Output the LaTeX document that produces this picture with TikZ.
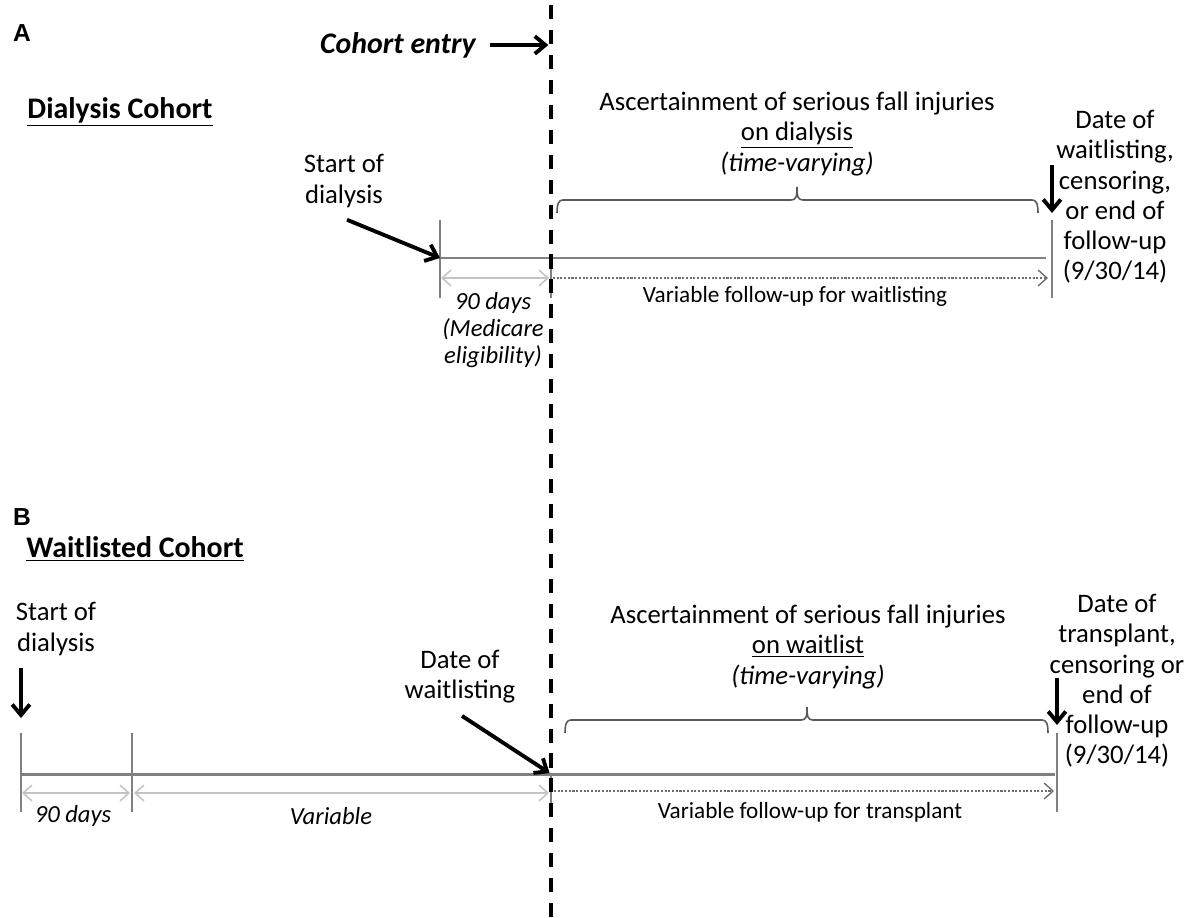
\documentclass[tikz,border=0pt]{standalone}
\usepackage{fontspec}
\setmainfont{Carlito}
\newfontfamily\panelfont{Liberation Sans}
\usetikzlibrary{arrows.meta,positioning}

\definecolor{axisgray}{HTML}{808080}
\definecolor{spangray}{HTML}{C4C4C4}
\definecolor{dotgray}{HTML}{6E6E6E}
\definecolor{bracegray}{HTML}{5A5A5A}

% brace over a follow-up window: left x, middle x, right x, base y
\newcommand{\spanbrace}[4]{%
  \draw[bracket] (#1,#4) .. controls (#1,#4-10) and (#1+2,#4-13) .. (#1+6,#4-13)
    -- (#2-6,#4-13) .. controls (#2-1,#4-13) and (#2,#4-16) .. (#2,#4-26)
    .. controls (#2,#4-16) and (#2+1,#4-13) .. (#2+6,#4-13)
    -- (#3-6,#4-13) .. controls (#3-2,#4-13) and (#3,#4-10) .. (#3,#4);}

\tikzset{
  timeline/.style={draw=axisgray, line width=1.7pt},
  tickmark/.style={draw=axisgray, line width=1.6pt},
  pointer/.style={draw=black, line width=2.2pt, -{Straight Barb[length=6pt,width=10pt]}},
  spanarrow/.style={draw=spangray, line width=0.9pt,
    {Straight Barb[length=5pt,width=9pt]}-{Straight Barb[length=5pt,width=9pt]}},
  followup/.style={draw=dotgray, line width=0.8pt, dash pattern=on 1.2pt off 0.9pt,
    -{Straight Barb[length=5pt,width=9pt]}},
  cutline/.style={draw=black, line width=2.2pt, dash pattern=on 8pt off 6.2pt},
  bracket/.style={draw=bracegray, line width=0.9pt},
  txt/.style={font=\fontsize{15.2}{17.2}\selectfont, align=center, inner sep=0pt},
  smalltxt/.style={font=\fontsize{13.2}{15}\selectfont, align=center, inner sep=0pt},
  itxt/.style={font=\fontsize{14}{15.6}\selectfont\itshape, align=center, inner sep=0pt},
  entrytxt/.style={font=\fontsize{17}{20}\selectfont\bfseries\itshape, inner sep=0pt},
  cohort/.style={font=\fontsize{17}{20}\selectfont\bfseries, inner sep=0pt},
  panel/.style={font=\panelfont\fontsize{14}{16}\selectfont\bfseries, inner sep=0pt},
}

\begin{document}
\begin{tikzpicture}[x=0.02cm, y=-0.02cm]
  \useasboundingbox (0,0) rectangle (1185,918);
  \coordinate (cutTop) at (551,5);
  \coordinate (cutBot) at (551,918);

  % A: dialysis cohort
  \node[panel] (panelA) at (22,33) {A};
  \node[entrytxt] (entry) at (398,45) {Cohort entry};
  \node[cohort] (dialysisTitle) at (120,112) {\underline{Dialysis Cohort}};

  \coordinate (a0) at (440,258);
  \coordinate (a1) at (551,258);
  \coordinate (a2) at (1052,258);

  \draw[timeline] (a0) -- ([shift={(-6,0)}]a2);
  \draw[tickmark] (a0) ++(0,-38) -- ++(0,78);
  \draw[tickmark] (a1) -- ++(0,40);
  \draw[tickmark] (a2) ++(0,-38) -- ++(0,78);

  \draw[spanarrow] ([shift={(1,20)}]a0) -- ([shift={(-2,20)}]a1);
  \draw[followup] ([shift={(2,20)}]a1) -- ([shift={(-4,20)}]a2);

  \node[txt] (startA) at (344,181) {Start of\\dialysis};
  \draw[pointer] (startA.south) ++(3,12) -- (a0);

  \node[itxt] (waitA) at (493,330) {90 days\\(Medicare\\eligibility)};
  \node[smalltxt] (fuA) at (795,296) {Variable follow-up for waitlisting};

  \node[txt] (ascA) at (797,134) {Ascertainment of serious fall injuries\\
    \underline{on dialysis}\\\textit{(time-varying)}};
  \spanbrace{557}{797}{1038}{213}

  \node[txt] (endA) at (1115,197) {Date of\\waitlisting,\\censoring,\\or end of\\follow-up\\(9/30/14)};
  \draw[pointer] (a2) ++(0,-93) -- ++(0,48);

  % B: waitlisted cohort
  \node[panel] (panelB) at (22,517) {B};
  \node[cohort] (waitTitle) at (135,549) {\underline{Waitlisted Cohort}};

  \coordinate (b0) at (21,774);
  \coordinate (b1) at (132,774);
  \coordinate (b2) at (551,774);
  \coordinate (b3) at (1057,774);

  \draw[timeline] (b0) -- ([shift={(-2,0)}]b3);
  \draw[tickmark] (b0) ++(0,-41) -- ++(0,79);
  \draw[tickmark] (b1) ++(0,-41) -- ++(0,79);
  \draw[tickmark] (b2) -- ++(0,38);
  \draw[tickmark] (b3) ++(0,-41) -- ++(0,79);

  \draw[spanarrow] ([shift={(1,19)}]b0) -- ([shift={(-2,19)}]b1);
  \draw[spanarrow] ([shift={(2,19)}]b1) -- ([shift={(-2,19)}]b2);
  \draw[followup] ([shift={(3,17)}]b2) -- ([shift={(-3,17)}]b3);

  \node[txt] (startB) at (56,629) {Start of\\dialysis};
  \draw[pointer] (b0) ++(0,-106) -- ++(0,50);

  \node[txt] (waitDate) at (460,677) {Date of\\waitlisting};
  \draw[pointer, shorten >=1pt] (waitDate.south) ++(2,12) -- (b2);

  \node[itxt] (waitB0) at (73,816) {90 days};
  \node[itxt] (waitB1) at (331,816) {Variable};
  \node[smalltxt] (fuB) at (810,812) {Variable follow-up for transplant};

  \node[txt] (ascB) at (808,647) {Ascertainment of serious fall injuries\\
    \underline{on waitlist}\\\textit{(time-varying)}};
  \spanbrace{565}{807}{1048}{733}

  \node[txt] (endB) at (1117,681) {Date of\\transplant,\\censoring or\\end of\\follow-up\\(9/30/14)};
  \draw[pointer] (b3) ++(0,-96) -- ++(0,47);

  % cohort entry line
  \draw[pointer, shorten >=1.5pt] (entry.east) ++(14,0) -- (entry.east -| cutTop);
  \draw[cutline] (cutTop) -- (cutBot);
\end{tikzpicture}
\end{document}
